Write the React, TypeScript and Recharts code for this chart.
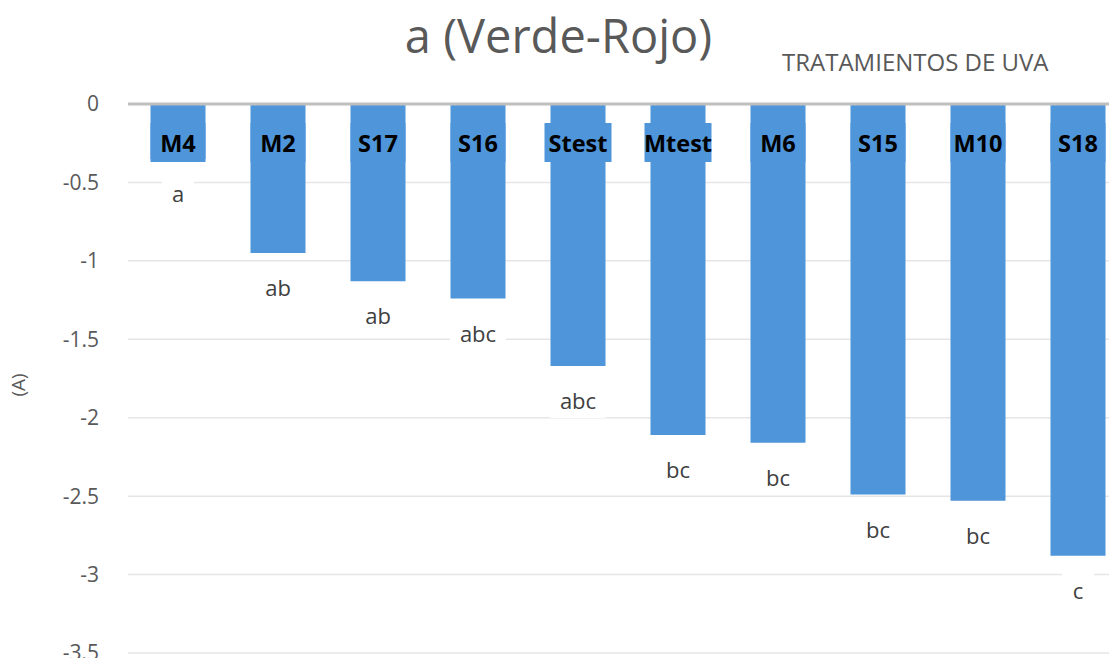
import React from 'react';
import { BarChart, Bar, XAxis, YAxis, CartesianGrid, LabelList, ReferenceLine } from 'recharts';

const treatments = ['M4', 'M2', 'S17', 'S16', 'Stest', 'Mtest', 'M6', 'S15', 'M10', 'S18'];
const aValues = [-0.35, -0.95, -1.13, -1.24, -1.67, -2.11, -2.16, -2.49, -2.53, -2.88];
const groups = ['a', 'ab', 'ab', 'abc', 'abc', 'bc', 'bc', 'bc', 'bc', 'c'];
const yTicks = [0, -0.5, -1, -1.5, -2, -2.5, -3, -3.5];

const BAR_COLOR = '#4F95D9';
const TEXT_GREY = '#595959';
const FONT = '"Open Sans", Roboto, sans-serif';

const chartData = treatments.map((name, i) => ({
  name,
  value: aValues[i],
  group: groups[i],
}));

// category name sitting at the top of each bar, on a box of the bar colour
const renderName = (props: any) => {
  const { x, width, value } = props;
  const cx = x + width / 2;
  const textW = String(value).length * 13;
  const boxW = Math.max(width, textW + 2);
  return (
    <g>
      <rect x={cx - boxW / 2} y={123} width={boxW} height={39} fill={BAR_COLOR} />
      <text x={cx} y={143} textAnchor="middle" dominantBaseline="central"
        fontFamily={FONT} fontWeight={700} fontSize={23.5} fill="#000">
        {value}
      </text>
    </g>
  );
};

// significance letters below the end of each bar
const renderGroup = (props: any) => {
  const { x, y, width, height, value } = props;
  const cx = x + width / 2;
  const bottom = Math.max(y, y + height);
  const boxW = String(value).length * 12 + 20;
  return (
    <g>
      <rect x={cx - boxW / 2} y={bottom + 16} width={boxW} height={36} fill="#fff" />
      <text x={cx} y={bottom + 34} textAnchor="middle" dominantBaseline="central"
        fontFamily={FONT} fontSize={22} fill="#404040">
        {value}
      </text>
    </g>
  );
};

const App: React.FC = () => {
  return (
    <div style={{ position: 'relative', width: 1117, height: 666, margin: -8, overflow: 'hidden', background: '#fff', fontFamily: FONT }}>
      <div style={{ position: 'absolute', left: 0, width: 1117, top: 4, textAlign: 'center', fontSize: 47, color: TEXT_GREY, lineHeight: '62px' }}>
        a (Verde-Rojo)
      </div>
      <div style={{ position: 'absolute', left: 782, top: 46, fontSize: 24, color: TEXT_GREY, lineHeight: '32px' }}>
        TRATAMIENTOS DE UVA
      </div>
      <div style={{ position: 'absolute', left: 6, top: 385, transform: 'translate(0, -50%) rotate(-90deg)', fontSize: 19, color: TEXT_GREY }}>
        (A)
      </div>
      <div style={{ position: 'absolute', left: 0, top: 0 }}>
        <BarChart width={1140} height={666} data={chartData}
          margin={{ top: 104, right: 12, bottom: 13, left: 0 }} barCategoryGap="22.5%">
          <CartesianGrid vertical={false} stroke="#e6e6e6" strokeWidth={1.5} />
          <XAxis dataKey="name" hide />
          <YAxis width={128} domain={[-3.5, 0]} ticks={yTicks} axisLine={false} tickLine={false}
            tickMargin={23} interval={0}
            tick={{ fill: TEXT_GREY, fontSize: 21, fontFamily: FONT }} />
          <ReferenceLine y={0} stroke="#bfbfbf" strokeWidth={3} />
          <Bar dataKey="value" fill={BAR_COLOR} isAnimationActive={false}>
            <LabelList dataKey="group" content={renderGroup} />
            <LabelList dataKey="name" content={renderName} />
          </Bar>
        </BarChart>
      </div>
    </div>
  );
};

export default App;
